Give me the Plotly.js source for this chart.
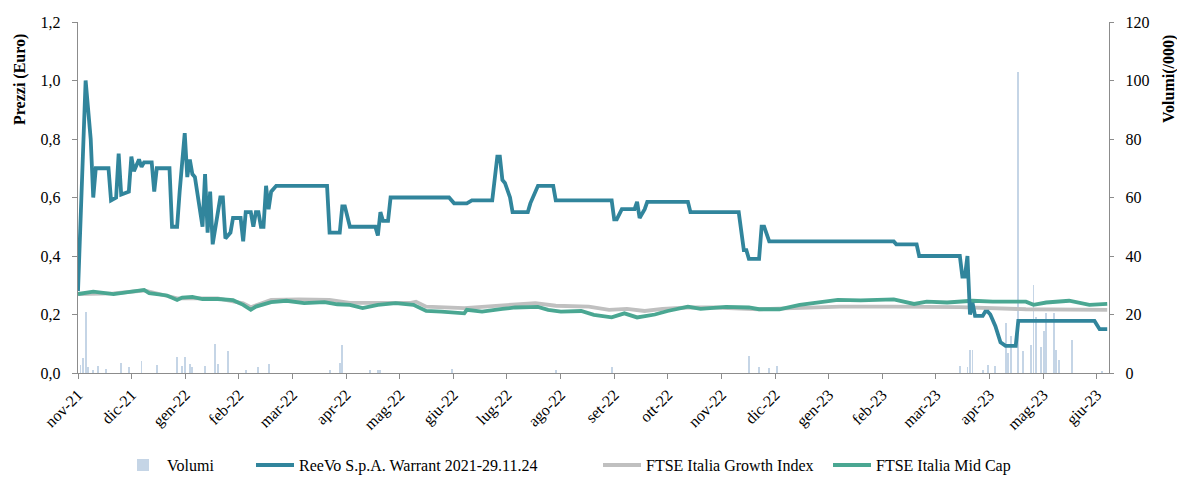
<!DOCTYPE html>
<html>
<head>
<meta charset="utf-8">
<script src="https://cdn.plot.ly/plotly-3.0.1.min.js"></script>
<style>html,body{margin:0;padding:0;background:#fff;}#chart{width:1177px;height:477px;}</style>
</head>
<body>
<div id="chart"></div>
<script>
// x = trading-day index; month labels every ~21.1 trading days
const monthLabels = ['nov-21','dic-21','gen-22','feb-22','mar-22','apr-22','mag-22','giu-22','lug-22','ago-22','set-22','ott-22','nov-22','dic-22','gen-23','feb-23','mar-23','apr-23','mag-23','giu-23'];
const daysPerLabel = 21.1;

// ReeVo S.p.A. Warrant 2021-29.11.24 (Euro)
const reevoDay = [0,3,5,6,7,12,13,15,16,17,20,21,22,24,25,26,29,30,31,36,37,39,40,42,43,44,45,46,49,50,51,52,53,56,57,58,60,61,64,65,66,68,69,70,71,72,73,74,75,76,78,98,99,103,104,105,107,117,118,119,120,122,123,146,148,153,155,163,165,166,167,168,170,171,177,178,181,187,188,210,211,212,214,219,220,221,223,224,240,241,260,262,263,264,268,269,270,272,321,322,330,331,347,348,349,350,351,352,353,356,357,358,359,361,363,365,369,370,400,402,405];
const reevoPrice = [0.28,1.00,0.80,0.60,0.70,0.70,0.59,0.60,0.75,0.61,0.62,0.74,0.69,0.73,0.705,0.72,0.72,0.62,0.70,0.70,0.50,0.50,0.62,0.82,0.67,0.73,0.68,0.67,0.50,0.68,0.48,0.62,0.44,0.60,0.60,0.46,0.48,0.53,0.53,0.45,0.55,0.55,0.50,0.55,0.55,0.50,0.50,0.64,0.56,0.62,0.64,0.64,0.48,0.48,0.57,0.57,0.50,0.50,0.47,0.55,0.52,0.52,0.60,0.60,0.58,0.58,0.59,0.59,0.74,0.74,0.66,0.65,0.60,0.55,0.55,0.58,0.64,0.64,0.59,0.59,0.525,0.525,0.56,0.56,0.585,0.53,0.56,0.585,0.585,0.55,0.55,0.42,0.42,0.39,0.39,0.50,0.50,0.45,0.45,0.44,0.44,0.40,0.40,0.33,0.33,0.40,0.20,0.24,0.195,0.195,0.21,0.21,0.20,0.16,0.105,0.093,0.093,0.178,0.178,0.15,0.15];

// FTSE Italia Growth Index (rebased)
const growthDay = [0,14,26,39,55,65,68,76,87,99,107,119,131,133,137,152,172,180,188,201,209,216,223,230,240,251,268,284,300,321,347,373,405];
const growthVal = [0.27,0.272,0.282,0.255,0.255,0.238,0.225,0.25,0.252,0.25,0.24,0.24,0.24,0.244,0.227,0.222,0.235,0.239,0.23,0.227,0.216,0.219,0.212,0.219,0.224,0.224,0.218,0.222,0.227,0.227,0.225,0.218,0.216];

// FTSE Italia Mid Cap (rebased)
const midDay = [0,6,14,20,26,28,35,39,41,45,49,55,61,65,68,70,76,82,89,97,102,107,112,118,125,132,135,137,143,152,153,159,167,172,181,185,190,198,203,210,215,220,227,232,240,245,255,264,268,276,284,292,299,308,321,329,334,342,352,360,373,376,381,390,398,405];
const midVal = [0.27,0.278,0.27,0.278,0.284,0.273,0.265,0.25,0.258,0.26,0.253,0.253,0.249,0.233,0.216,0.227,0.242,0.247,0.239,0.242,0.235,0.233,0.222,0.233,0.239,0.233,0.219,0.212,0.21,0.204,0.216,0.21,0.219,0.224,0.226,0.216,0.21,0.212,0.199,0.19,0.204,0.19,0.20,0.212,0.227,0.219,0.226,0.224,0.218,0.218,0.233,0.241,0.25,0.248,0.252,0.236,0.244,0.241,0.247,0.244,0.244,0.233,0.241,0.247,0.233,0.236];

// Volumi (/000)
const volDay = [1,2,3,4,6,8,11,17,20,25,31,39,41,42,44,45,50,54,55,59,66,71,75,99,103,104,115,118,119,147,188,210,264,268,272,275,347,350,351,352,356,358,361,365,366,367,370,372,375,376,377,379,380,381,384,385,386,391,403];
const volK = [2.8,5,21,2,1.1,2.3,1.4,3.4,2,4,2.8,5.5,2.5,5.5,3,2,2.5,10,3,7.4,1,2,3.2,1,3.4,9.7,1,1,1,1.5,1,2,5.7,2,1.7,2.5,2.5,2,8,8,1,2.7,2.5,17,7,12.7,103,7.4,9.7,30,19.3,9,14.5,20.5,20.5,8,4.5,11.4,0.6];

const FONT = 'Liberation Serif, Times New Roman, serif';
const FS = 16;
const tickVals = monthLabels.map((_, i) => i * daysPerLabel);

const traces = [
  {type:'bar', name:'Volumi', x:volDay, y:volK, yaxis:'y', xaxis:'x',
   marker:{color:'#c5d5e6', line:{width:0}}, width:0.75, legend:'legend', hoverinfo:'skip'},
  {type:'scatter', mode:'lines', name:'FTSE Italia Growth Index', x:growthDay, y:growthVal, yaxis:'y2',
   line:{color:'#c0c0c0', width:3.8}, legend:'legend3'},
  {type:'scatter', mode:'lines', name:'FTSE Italia Mid Cap', x:midDay, y:midVal, yaxis:'y2',
   line:{color:'#4aa792', width:3.8}, legend:'legend4'},
  {type:'scatter', mode:'lines', name:'ReeVo S.p.A. Warrant 2021-29.11.24', x:reevoDay, y:reevoPrice, yaxis:'y2',
   line:{color:'#31859c', width:3.8}, legend:'legend2'}
];

const axisCommon = {showline:true, linecolor:'#8c8c8c', linewidth:1.3, ticks:'outside', tickcolor:'#8c8c8c',
  showgrid:false, zeroline:false, automargin:false, tickfont:{family:FONT, size:FS, color:'#000'}};

const legendCommon = {orientation:'h', xref:'container', yref:'container', y:0.025, yanchor:'middle',
  xanchor:'left', bgcolor:'rgba(0,0,0,0)', font:{family:FONT, size:FS, color:'#000'}, itemwidth:38};

const layout = {
  width:1177, height:477,
  margin:{l:78, r:68, t:22, b:104},
  paper_bgcolor:'#fff', plot_bgcolor:'#fff',
  separators:',.',
  bargap:0,
  xaxis: Object.assign({}, axisCommon, {range:[0,405.7], tickmode:'array', tickvals:tickVals, ticktext:monthLabels,
    tickangle:-45, ticklen:5}),
  yaxis: Object.assign({}, axisCommon, {side:'right', range:[0,120], dtick:20, tick0:0, ticklen:4, anchor:'x', ticklabelstandoff:8}),
  yaxis2: Object.assign({}, axisCommon, {side:'left', overlaying:'y', range:[0,1.2], dtick:0.2, tick0:0,
    tickformat:'.1f', ticklen:5, anchor:'x', ticklabelstandoff:8}),
  legend: Object.assign({}, legendCommon, {x:119/1177}),
  legend2: Object.assign({}, legendCommon, {x:251/1177}),
  legend3: Object.assign({}, legendCommon, {x:598/1177}),
  legend4: Object.assign({}, legendCommon, {x:828/1177}),
  showlegend:true,
  annotations:[
    {text:'<b>Prezzi (Euro)</b>', xref:'paper', yref:'paper', x:(20-78)/1031, y:(373-80)/351,
     xanchor:'center', yanchor:'middle', textangle:-90, showarrow:false, font:{family:FONT, size:FS, color:'#000'}},
    {text:'<b>Volumi(/000)</b>', xref:'paper', yref:'paper', x:(1169-78)/1031, y:(373-79)/351,
     xanchor:'center', yanchor:'middle', textangle:-90, showarrow:false, font:{family:FONT, size:FS, color:'#000'}}
  ]
};

Plotly.newPlot('chart', traces, layout, {staticPlot:true, displayModeBar:false});
</script>
</body>
</html>
